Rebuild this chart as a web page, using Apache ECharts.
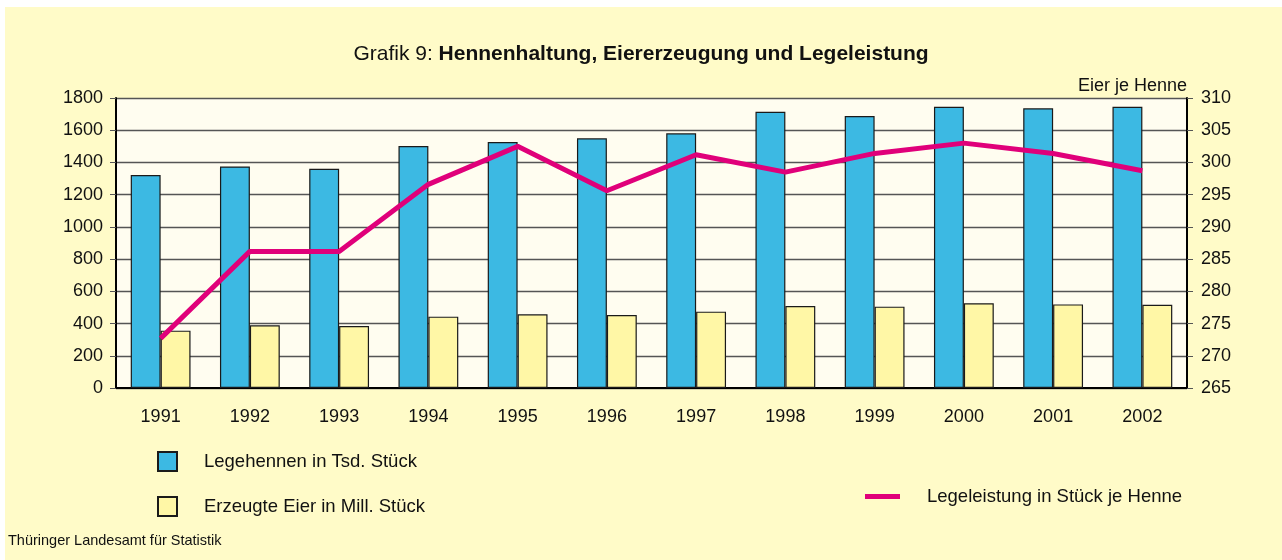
<!DOCTYPE html>
<html>
<head>
<meta charset="utf-8">
<script src="https://cdn.jsdelivr.net/npm/echarts@6/dist/echarts.min.js"></script>
<style>
html,body{margin:0;padding:0;background:#ffffff;}
#frame{position:absolute;left:5px;top:7px;width:1277px;height:553px;background:#fffbc8;}
#chart{position:absolute;left:-5px;top:-7px;width:1282px;height:560px;}
</style>
</head>
<body>
<div id="frame"><div id="chart"></div></div>
<script>
var years = ['1991','1992','1993','1994','1995','1996','1997','1998','1999','2000','2001','2002'];
var legehennen = [1322, 1375, 1361, 1502, 1527, 1550, 1581, 1715, 1688, 1746, 1736, 1746];
var eier = [356, 389, 385, 443, 457, 453, 474, 509, 505, 526, 519, 517];
var legeleistung = [272.7, 286.2, 286.2, 296.6, 302.5, 295.6, 301.2, 298.5, 301.4, 303.0, 301.4, 298.7];
var leftTicks = [0, 1800, 200];
var rightTicks = [265, 310, 5];

var font = '"Liberation Sans", Arial, Helvetica, sans-serif';
var chart = echarts.init(document.getElementById('chart'));
chart.setOption({
  backgroundColor: 'transparent',
  animation: false,
  textStyle: {fontFamily: font},
  title: {
    text: '{a|Grafik 9: }{b|Hennenhaltung, Eiererzeugung und Legeleistung}',
    left: 'center', top: 39,
    textStyle: {
      rich: {
        a: {fontFamily: font, fontSize: 21, fontWeight: 'normal', color: '#111'},
        b: {fontFamily: font, fontSize: 21, fontWeight: 'bold', color: '#111'}
      }
    }
  },
  legend: [
    {data: ['Legehennen in Tsd. Stück'], left: 157, top: 451, orient: 'vertical', padding: 0,
     itemWidth: 19, itemHeight: 19, icon: 'rect',
     textStyle: {fontFamily: font, fontSize: 18.5, color: '#111', padding: [0, 0, 0, 22]}},
    {data: ['Erzeugte Eier in Mill. Stück'], left: 157, top: 496, orient: 'vertical', padding: 0,
     itemWidth: 19, itemHeight: 19, icon: 'rect',
     textStyle: {fontFamily: font, fontSize: 18.5, color: '#111', padding: [0, 0, 0, 22]}},
    {data: [{name: 'Legeleistung in Stück je Henne', icon: 'rect', itemStyle: {color: '#e0007a', borderWidth: 0}}], left: 865, top: 487, padding: 0,
     itemWidth: 35, itemHeight: 5,
     textStyle: {fontFamily: font, fontSize: 18.5, color: '#111', padding: [0, 0, 0, 22]}}
  ],
  grid: {left: 116, right: 95, top: 98, bottom: 172, show: true, backgroundColor: '#fffdf0', borderWidth: 0},
  xAxis: {
    type: 'category', data: years,
    axisLine: {lineStyle: {color: '#000', width: 2}},
    axisTick: {show: false},
    axisLabel: {fontFamily: font, fontSize: 18, color: '#111', margin: 20}
  },
  yAxis: [
    {type: 'value', min: leftTicks[0], max: leftTicks[1], interval: leftTicks[2],
     axisLine: {show: true, lineStyle: {color: '#000', width: 2}},
     axisTick: {show: true, length: 6, lineStyle: {color: '#555', width: 1}},
     axisLabel: {fontFamily: font, fontSize: 18, color: '#111', margin: 13, formatter: function (v) { return String(v); }},
     splitLine: {lineStyle: {color: '#555', width: 1.3}}},
    {type: 'value', min: rightTicks[0], max: rightTicks[1], interval: rightTicks[2], position: 'right',
     name: 'Eier je Henne', nameLocation: 'end', nameGap: 3,
     nameTextStyle: {fontFamily: font, fontSize: 18, color: '#111', align: 'right', verticalAlign: 'bottom'},
     axisLine: {show: true, lineStyle: {color: '#000', width: 2}},
     axisTick: {show: true, length: 6, lineStyle: {color: '#555', width: 1}},
     axisLabel: {fontFamily: font, fontSize: 18, color: '#111', margin: 14, formatter: function (v) { return String(v); }},
     splitLine: {show: false}}
  ],
  series: [
    {name: 'Legehennen in Tsd. Stück', type: 'bar', data: legehennen, yAxisIndex: 0,
     barGap: '0%', barCategoryGap: '33%',
     itemStyle: {color: '#3cb9e3', borderColor: '#1a1a1a', borderWidth: 1.2}},
    {name: 'Erzeugte Eier in Mill. Stück', type: 'bar', data: eier, yAxisIndex: 0,
     barGap: '0%', barCategoryGap: '33%',
     itemStyle: {color: '#fff7a6', borderColor: '#1a1a1a', borderWidth: 1.2}},
    {name: 'Legeleistung in Stück je Henne', type: 'line', data: legeleistung, yAxisIndex: 1,
     symbol: 'none', lineStyle: {color: '#e0007a', width: 5}, itemStyle: {color: '#e0007a'}, z: 5}
  ],
  graphic: [
    {type: 'text', left: 8, top: 533, style: {text: 'Thüringer Landesamt für Statistik', fontFamily: font, fontSize: 14.5, fill: '#111'}}
  ]
});
</script>
</body>
</html>
